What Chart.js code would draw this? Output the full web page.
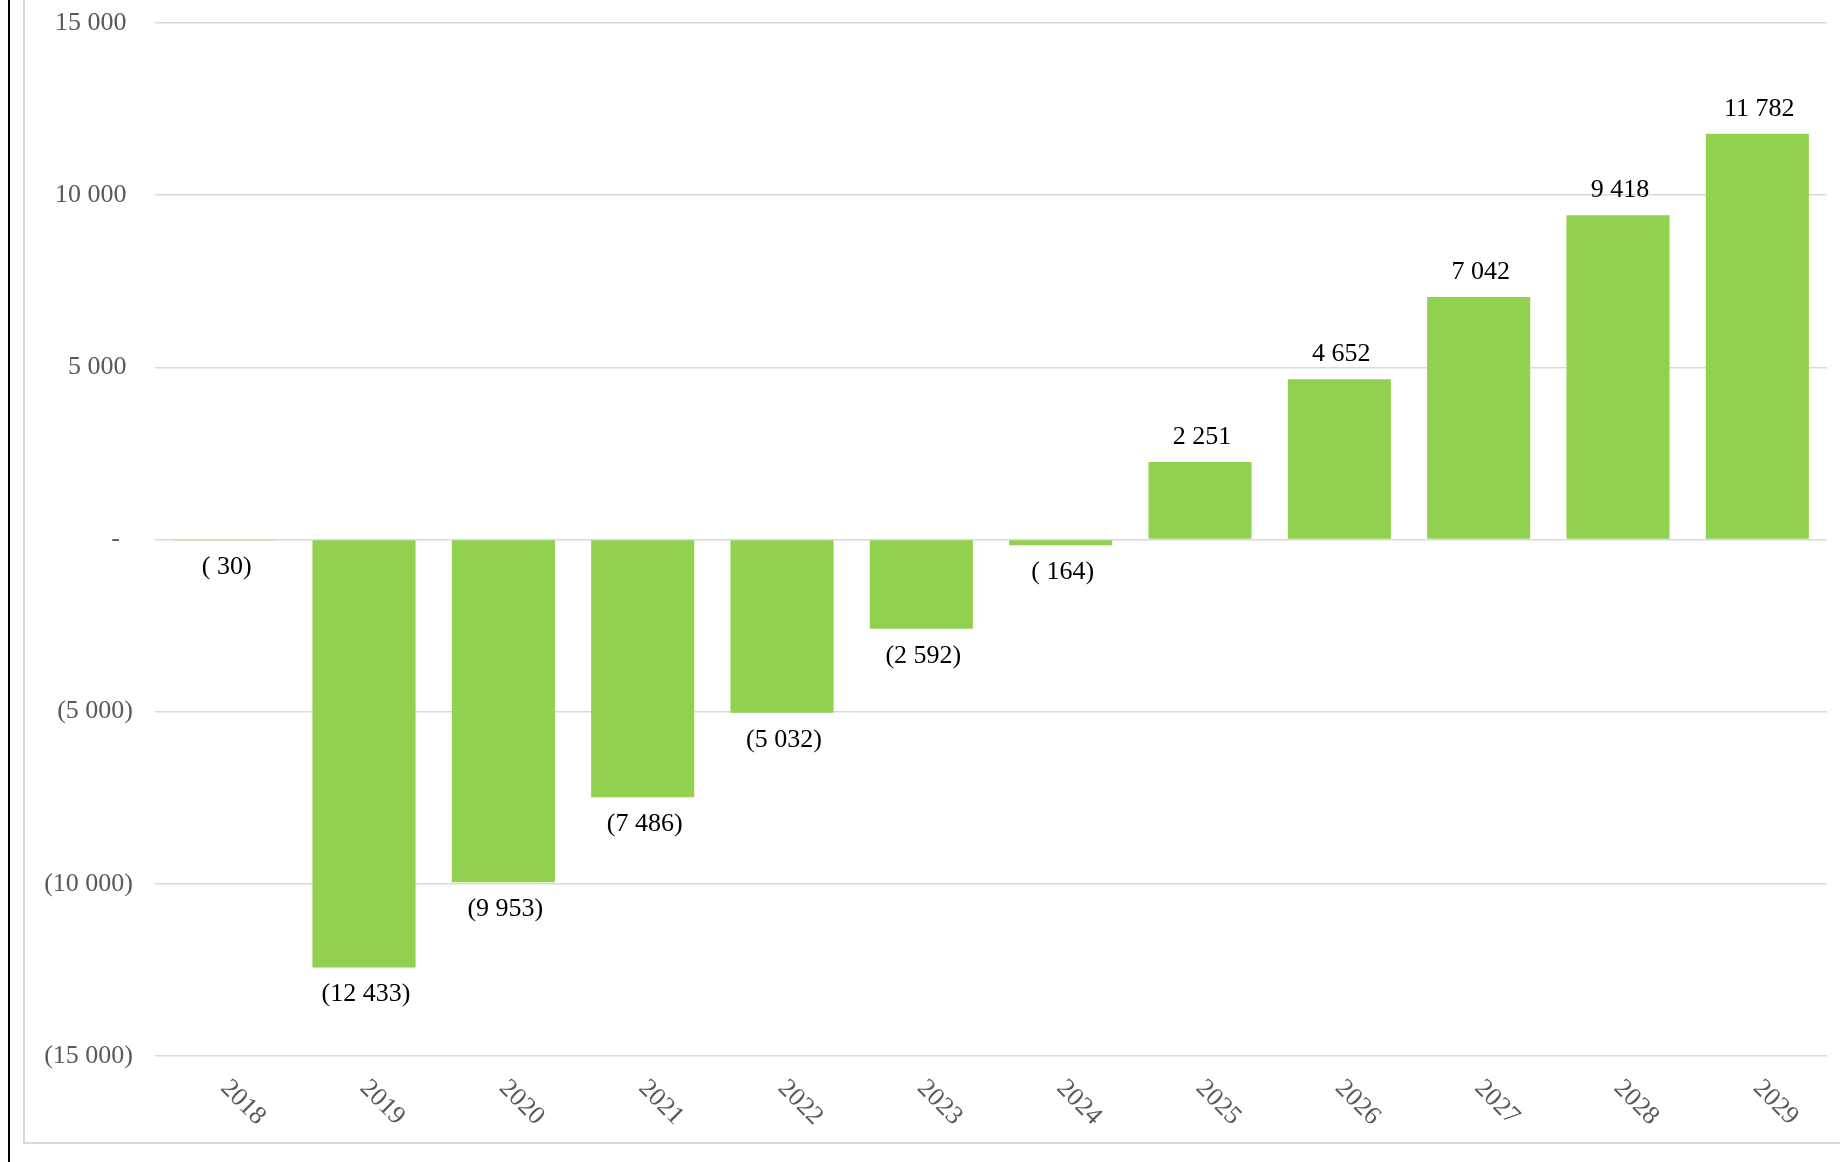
<!DOCTYPE html>
<html>
<head>
<meta charset="utf-8">
<script src="https://cdn.jsdelivr.net/npm/chart.js@4.4.1/dist/chart.umd.min.js"></script>
<style>
  html, body { margin: 0; padding: 0; background: #fff; overflow: hidden; }
  #wrap { position: relative; width: 1840px; height: 1162px; }
  #edge { position: absolute; left: 8px; top: 0; width: 2px; height: 1162px; background: #000; }
  #frame { position: absolute; left: 23px; top: -4px; width: 1830px; height: 1148px;
           border-left: 2px solid #d9d9d9; border-bottom: 2px solid #d9d9d9; box-sizing: border-box; }
  canvas { position: absolute; left: 0; top: 0; }
</style>
</head>
<body>
<div id="wrap">
  <div id="edge"></div>
  <div id="frame"></div>
  <canvas id="chart" width="1840" height="1162"></canvas>
</div>
<script>
// data
const years = ['2018', '2019', '2020', '2021', '2022', '2023', '2024', '2025', '2026', '2027', '2028', '2029'];
const values = [-30, -12433, -9953, -7486, -5032, -2592, -164, 2251, 4652, 7042, 9418, 11782];
const yTicks = [15000, 10000, 5000, 0, -5000, -10000, -15000];

const FONT = '"Liberation Serif", "DejaVu Serif", serif';
const SIZE = 26;

function groupDigits(n) {
    return String(Math.abs(n)).replace(/\B(?=(\d{3})+(?!\d))/g, ' ');
}

function fmtLabel(v) {
    if (v >= 0) return groupDigits(v);
    const s = groupDigits(v);
    return Math.abs(v) < 1000 ? '( ' + s + ')' : '(' + s + ')';
}

// accounting style: positives leave room for the closing paren
function fmtTick(v) {
    if (v === 0) return '-\u2007';
    return v > 0 ? groupDigits(v) + ' ' : '(' + groupDigits(v) + ')';
}

// value labels at the end of each bar
const barLabels = {
    id: 'barLabels',
    afterDatasetsDraw(chart) {
        const ctx = chart.ctx;
        const meta = chart.getDatasetMeta(0);
        ctx.save();
        ctx.font = SIZE + 'px ' + FONT;
        ctx.fillStyle = '#000';
        ctx.textAlign = 'center';
        ctx.textBaseline = 'middle';
        meta.data.forEach((bar, i) => {
            const v = values[i];
            const y = v >= 0 ? bar.y - 25 : bar.y + 27;
            ctx.fillText(fmtLabel(v), bar.x + 2, y);
        });
        ctx.restore();
    }
};

// category labels turned 45 degrees clockwise
const yearLabels = {
    id: 'yearLabels',
    afterDraw(chart) {
        const ctx = chart.ctx;
        const xs = chart.scales.x;
        const top = chart.chartArea.bottom + 33;
        ctx.save();
        ctx.font = SIZE + 'px ' + FONT;
        ctx.fillStyle = '#595959';
        ctx.textAlign = 'left';
        ctx.textBaseline = 'alphabetic';
        years.forEach((yr, i) => {
            const x = xs.getPixelForValue(i);
            ctx.save();
            ctx.translate(x - 5, top);
            ctx.rotate(Math.PI / 4);
            ctx.fillText(yr, 0, 0);
            ctx.restore();
        });
        ctx.restore();
    }
};

new Chart(document.getElementById('chart'), {
    type: 'bar',
    data: {
        labels: years,
        datasets: [{
            data: values,
            backgroundColor: '#92d050',
            borderWidth: 0,
            categoryPercentage: 1,
            barPercentage: 0.74
        }]
    },
    options: {
        responsive: false,
        animation: false,
        layout: { padding: { top: 23, right: 13, left: 0, bottom: 0 } },
        plugins: { legend: { display: false }, tooltip: { enabled: false } },
        scales: {
            x: {
                grid: { display: false },
                border: { display: false },
                ticks: { display: false },
                afterFit(scale) { scale.height = 106; }
            },
            y: {
                min: -15000,
                max: 15000,
                afterFit(scale) {
                    scale.width = 155;
                    scale.paddingTop = 0;
                    scale.paddingBottom = 0;
                },
                afterBuildTicks(scale) { scale.ticks = yTicks.map(v => ({ value: v })); },
                grid: { color: '#d9d9d9', lineWidth: 1.5, drawTicks: false },
                border: { display: false },
                ticks: {
                    padding: 22,
                    color: '#595959',
                    font: { family: FONT, size: SIZE },
                    callback: v => fmtTick(v)
                }
            }
        }
    },
    plugins: [barLabels, yearLabels]
});
</script>
</body>
</html>
